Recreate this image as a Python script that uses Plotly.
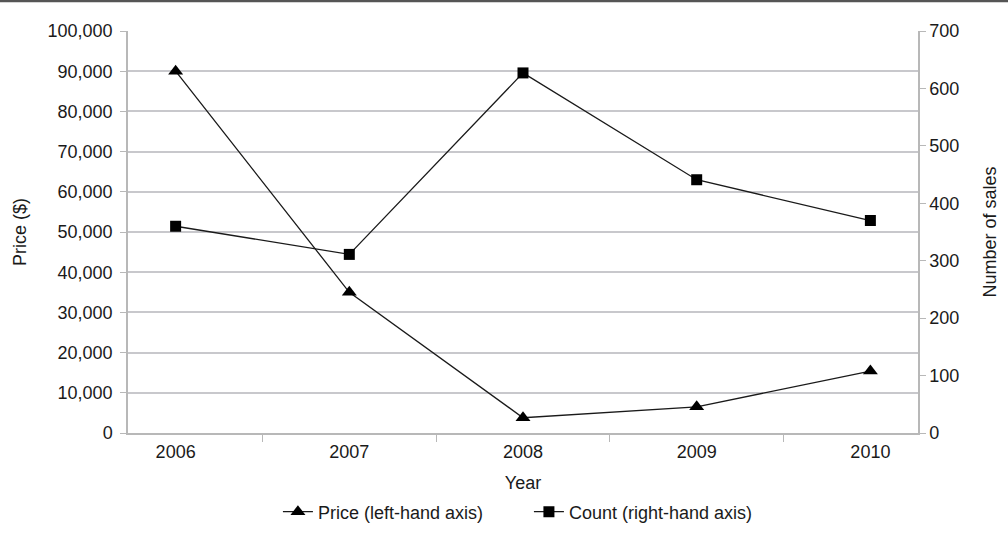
import plotly.graph_objects as go

years = ["2006", "2007", "2008", "2009", "2010"]
price = [90000, 35000, 3800, 6500, 15400]
count = [360, 311, 627, 441, 370]

FONT = "Liberation Sans, Arial, sans-serif"
AX = "#b8b8b8"
GRID = "#c8c8cc"
TXT = "#1a1a1a"
FS = 18

fig = go.Figure()
fig.add_trace(go.Scatter(
    x=years, y=price, name="Price (left-hand axis)", mode="lines+markers",
    line=dict(color="#1a1a1a", width=1.3),
    marker=dict(symbol="triangle-up", size=13, color="#000000"),
    yaxis="y",
))
fig.add_trace(go.Scatter(
    x=years, y=count, name="Count (right-hand axis)", mode="lines+markers",
    line=dict(color="#1a1a1a", width=1.3),
    marker=dict(symbol="square", size=11, color="#000000"),
    yaxis="y2",
))

fig.update_layout(
    width=1008, height=536,
    margin=dict(l=128, r=90, t=31, b=103, autoexpand=False),
    paper_bgcolor="white", plot_bgcolor="white",
    font=dict(family=FONT, size=FS, color=TXT),
    showlegend=True,
    legend=dict(orientation="h", xref="paper", x=0.5075, xanchor="center",
                yref="container", y=1 - 512 / 536, yanchor="middle",
                entrywidth=206, font=dict(size=FS)),
    xaxis=dict(
        type="category", title=dict(text="Year", standoff=16, font=dict(size=FS)),
        tickfont=dict(size=FS), ticklabelstandoff=2, automargin=False,
        showline=True, linecolor=AX, linewidth=1.5,
        ticks="outside", tickson="boundaries", ticklen=7, tickcolor=AX,
        showgrid=False, mirror=False,
    ),
    yaxis=dict(
        title=dict(text="Price ($)", standoff=16, font=dict(size=FS)),
        tickfont=dict(size=FS), ticklabelstandoff=4, automargin=False,
        range=[0, 100000], dtick=10000, tickformat=",",
        showline=True, linecolor=AX, linewidth=1.5,
        ticks="outside", ticklen=6, tickcolor=AX,
        showgrid=True, gridcolor=GRID, gridwidth=1.5, zeroline=False,
    ),
    yaxis2=dict(
        title=dict(text="Number of sales", standoff=25, font=dict(size=FS)),
        tickfont=dict(size=FS), automargin=False,
        overlaying="y", side="right",
        range=[0, 700], dtick=100,
        showline=True, linecolor=AX, linewidth=1.5,
        ticks="outside", ticklen=6, tickcolor=AX,
        showgrid=False, zeroline=False,
    ),
    shapes=[dict(type="line", xref="paper", yref="paper",
                 x0=-128/790, x1=(1008-128)/790, y0=(433-1)/402, y1=(433-1)/402,
                 line=dict(color="#555555", width=2.5))],
)

fig.write_html("out.html", config={"displayModeBar": False},
               post_script="document.body.style.margin='0px';document.body.style.padding='0px';")
